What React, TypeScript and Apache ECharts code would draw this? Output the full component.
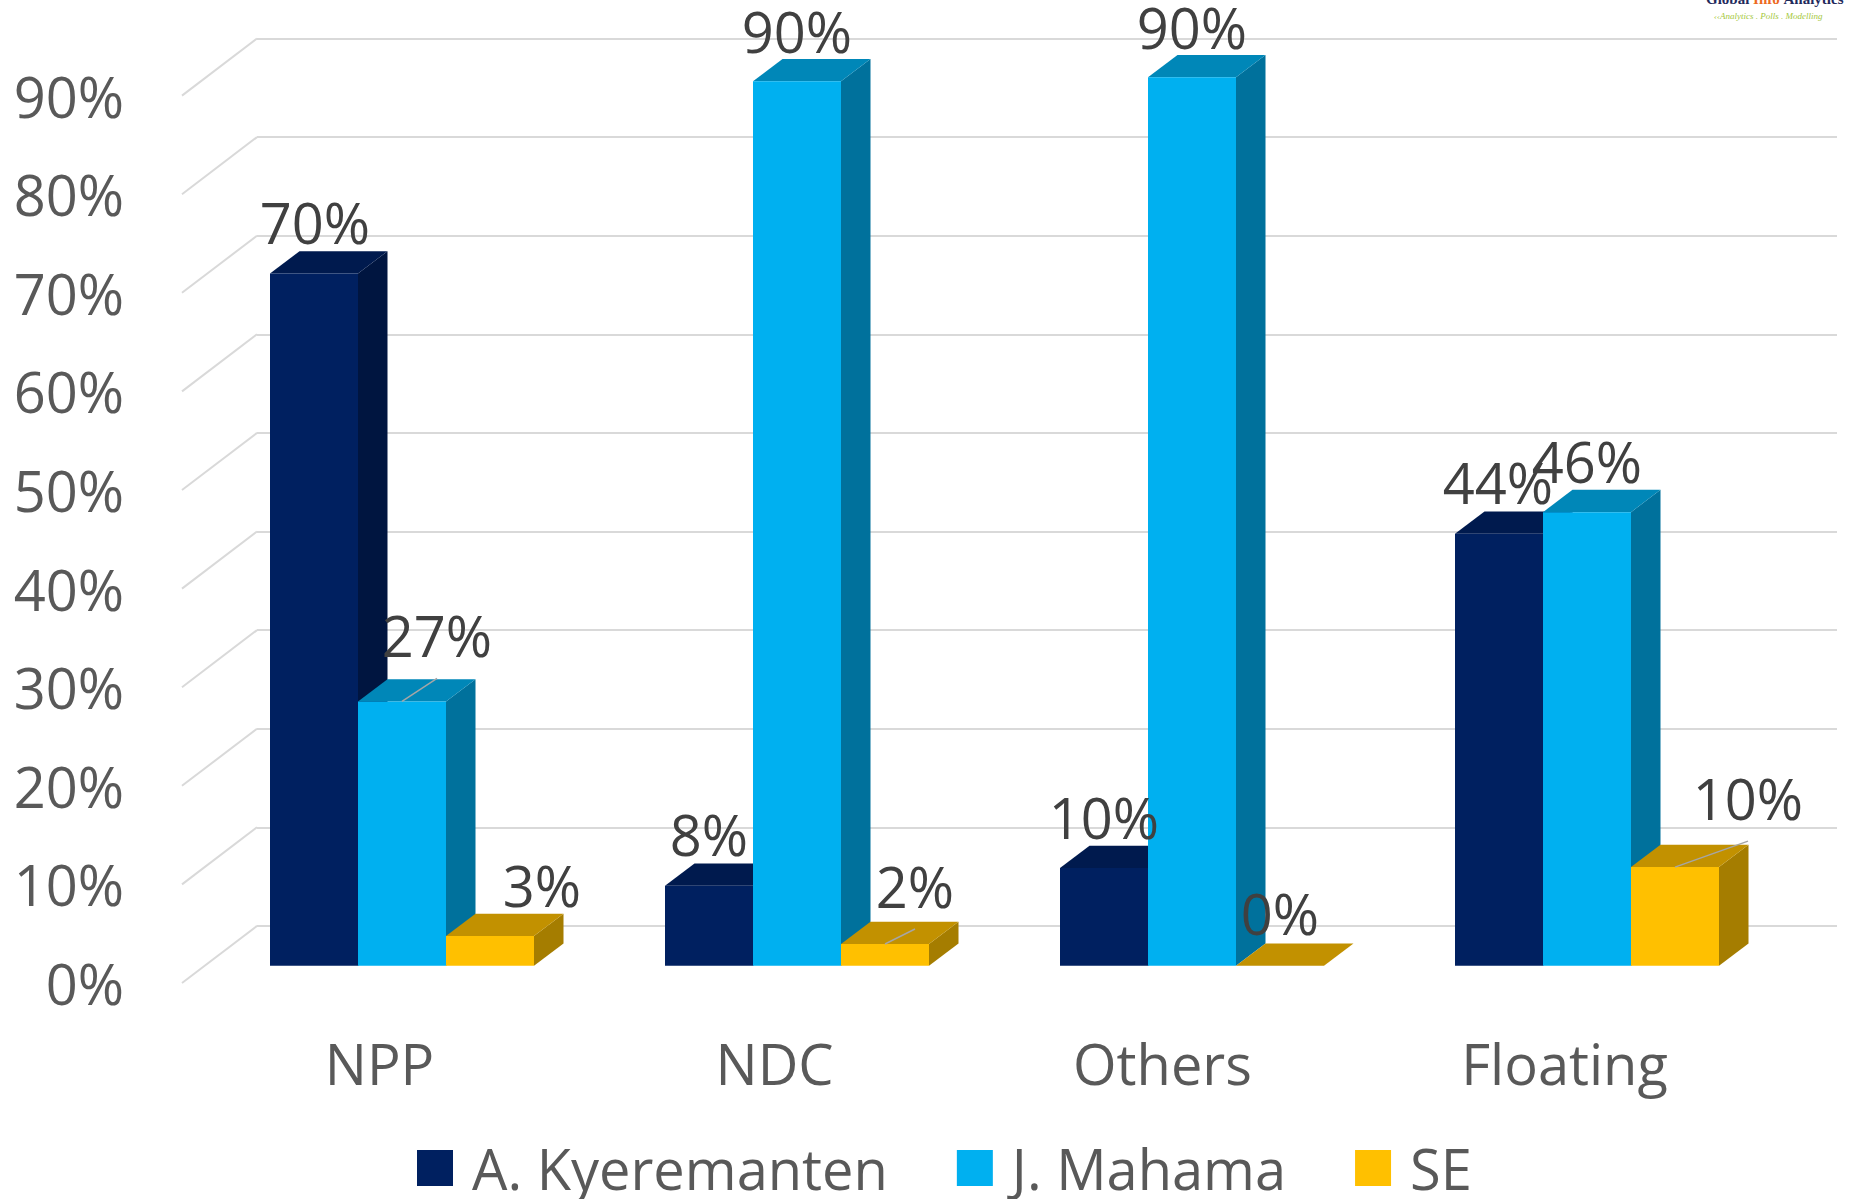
import React, { useEffect, useRef } from "react";
import * as echarts from "echarts";

const categories = ["NPP", "NDC", "Others", "Floating"];
const seriesNames = ["A. Kyeremanten", "J. Mahama", "SE"];
const kyeremanten = [70.2, 8.1, 9.9, 43.8];
const mahama = [26.8, 89.7, 90.1, 46];
const se = [3, 2.2, 0, 10];
const allValues = [kyeremanten, mahama, se];
const yTicks = [0, 10, 20, 30, 40, 50, 60, 70, 80, 90];

// Style tables
const faces = [
  { front: "#002060", top: "#001a4e", side: "#001540" },
  { front: "#00B0F0", top: "#0087B8", side: "#00719C" },
  { front: "#FFC000", top: "#C29100", side: "#A57D00" },
];
const labelOffsets = [
  [[1, -51.5], [0, -51.5], [0, -51.5], [-1, -51.5]],
  [[35, -66.5], [0, -50], [0, -50], [0, -51.5]],
  [[52, -51.5], [30, -58.5], [0, -52.5], [73, -69.5]],
];
const leaders = [
  [null, null, null, null],
  [[35, -23], null, null, null],
  [null, [30, -15], null, [73, -26]],
];

const FONT = "'Open Sans'";
const FONT_SIZE = 56;
const BAR_W = 88;
const DEPTH_X = 29.5;
const DEPTH_Y = 22.3;
const PLOT_W = 1580;
const PLOT_H = 887.4;

const barSeries = (si: number) => ({
  type: "custom",
  name: seriesNames[si],
  coordinateSystem: "cartesian2d",
  xAxisIndex: 2,
  yAxisIndex: 2,
  z: 3,
  silent: true,
  itemStyle: { color: faces[si].front },
  encode: { x: 0, y: 1 },
  data: allValues[si].map((v, i) => [i, v]),
  renderItem: (_p: any, api: any) => {
    const [cx, ty] = api.coord([api.value(0), api.value(1)]);
    const [, by] = api.coord([api.value(0), 0]);
    const x0 = cx - BAR_W * 1.5 + si * BAR_W;
    const x1 = x0 + BAR_W;
    const f = faces[si];
    const children: any[] = [
      {
        type: "polygon",
        shape: { points: [[x1, ty], [x1 + DEPTH_X, ty - DEPTH_Y], [x1 + DEPTH_X, by - DEPTH_Y], [x1, by]] },
        style: { fill: f.side },
      },
      {
        type: "polygon",
        shape: { points: [[x0, ty], [x0 + DEPTH_X, ty - DEPTH_Y], [x1 + DEPTH_X, ty - DEPTH_Y], [x1, ty]] },
        style: { fill: f.top },
      },
    ];
    if (by - ty > 0) {
      children.push({ type: "rect", shape: { x: x0, y: ty, width: BAR_W, height: by - ty }, style: { fill: f.front } });
    }
    return { type: "group", children };
  },
});

const labelSeries = (si: number) => ({
  type: "custom",
  coordinateSystem: "cartesian2d",
  xAxisIndex: 2,
  yAxisIndex: 2,
  z: 5,
  silent: true,
  encode: { x: 0, y: 1 },
  data: allValues[si].map((v, i) => [i, v]),
  renderItem: (_p: any, api: any) => {
    const i = api.value(0);
    const val = api.value(1);
    const [cx, ty] = api.coord([i, val]);
    const bx = cx - BAR_W * 1.5 + si * BAR_W + BAR_W / 2;
    const [ox, oy] = labelOffsets[si][i];
    const children: any[] = [];
    const l = leaders[si][i];
    if (l) {
      children.push({
        type: "line",
        shape: { x1: bx, y1: ty, x2: bx + l[0], y2: ty + l[1] },
        style: { stroke: "#a6a6a6", lineWidth: 1.5 },
      });
    }
    children.push({
      type: "text",
      style: {
        x: bx + ox,
        y: ty + oy,
        text: `${Math.round(val)}%`,
        fill: "#404040",
        font: `${FONT_SIZE}px ${FONT}`,
        align: "center",
        verticalAlign: "middle",
      },
    });
    return { type: "group", children };
  },
});

export default function App() {
  const ref = useRef<HTMLDivElement>(null);
  useEffect(() => {
    const chart = echarts.init(ref.current!, undefined, { renderer: "svg" });
    const hiddenX = (gridIndex: number) => ({
      type: "category",
      gridIndex,
      data: categories,
      axisLine: { show: false },
      axisTick: { show: false },
      axisLabel: { show: false },
    });
    const baseY = { type: "value", min: 0, max: 90, interval: 10, axisLine: { show: false }, axisTick: { show: false } };
    chart.setOption({
      animation: false,
      backgroundColor: "#ffffff",
      grid: [
        { left: 257, top: 38.5, width: PLOT_W, height: PLOT_H },
        { left: 182, top: 95.6, width: PLOT_W, height: PLOT_H },
        { left: 204.5, top: 78.3, width: PLOT_W, height: PLOT_H },
      ],
      xAxis: [
        hiddenX(0),
        {
          ...hiddenX(1),
          data: categories.map((c) =>
            c === "Others" ? { value: c, textStyle: { padding: [0, 14, 0, 0] } } : c
          ),
          axisLabel: { show: true, margin: 52, color: "#595959", fontFamily: "Open Sans", fontSize: FONT_SIZE },
        },
        hiddenX(2),
      ],
      yAxis: [
        {
          ...baseY,
          gridIndex: 0,
          axisLabel: { show: false },
          splitLine: { show: true, lineStyle: { color: "#d9d9d9", width: 2 } },
        },
        {
          ...baseY,
          gridIndex: 1,
          splitLine: { show: false },
          axisLabel: {
            margin: 58,
            color: "#595959",
            fontFamily: "Open Sans",
            fontSize: FONT_SIZE,
            formatter: "{value}%",
          },
        },
        { ...baseY, gridIndex: 2, splitLine: { show: false }, axisLabel: { show: false } },
      ],
      legend: {
        data: seriesNames,
        left: 417,
        top: 1140,
        padding: 0,
        icon: "rect",
        itemWidth: 36,
        itemHeight: 36,
        itemGap: 69,
        selectedMode: false,
        textStyle: { color: "#595959", fontFamily: "Open Sans", fontSize: FONT_SIZE, padding: [0, 0, 5, 14] },
      },
      graphic: [
        {
          type: "text",
          x: 1706,
          y: -9,
          style: {
            text: "{a|Global }{b|Info }{a|Analytics}",
            rich: {
              a: { fill: "#1f2a5c", font: "bold 15px 'Liberation Serif'" },
              b: { fill: "#ed6a1f", font: "bold 15px 'Liberation Serif'" },
            },
          },
        },
        {
          type: "text",
          x: 1714,
          y: 11,
          style: {
            text: "‹‹Analytics . Polls . Modelling",
            fill: "#a5c83c",
            font: "italic 9px 'Liberation Serif'",
          },
        },
      ],
      series: [
        {
          type: "custom",
          coordinateSystem: "cartesian2d",
          xAxisIndex: 1,
          yAxisIndex: 1,
          z: 1,
          silent: true,
          encode: { y: 1 },
          data: yTicks.map((t) => [0, t]),
          renderItem: (_p: any, api: any) => {
            const [cx, y] = api.coord([0, api.value(1)]);
            const x = cx - api.size([1, 0])[0] / 2;
            return {
              type: "line",
              shape: { x1: x, y1: y, x2: x + 75, y2: y - 57.1 },
              style: { stroke: "#d9d9d9", lineWidth: 2 },
            };
          },
        },
        barSeries(0),
        barSeries(1),
        barSeries(2),
        labelSeries(0),
        labelSeries(1),
        labelSeries(2),
      ],
    });
    return () => chart.dispose();
  }, []);
  return <div ref={ref} style={{ position: "fixed", left: 0, top: 0, width: 1849, height: 1199 }} />;
}
